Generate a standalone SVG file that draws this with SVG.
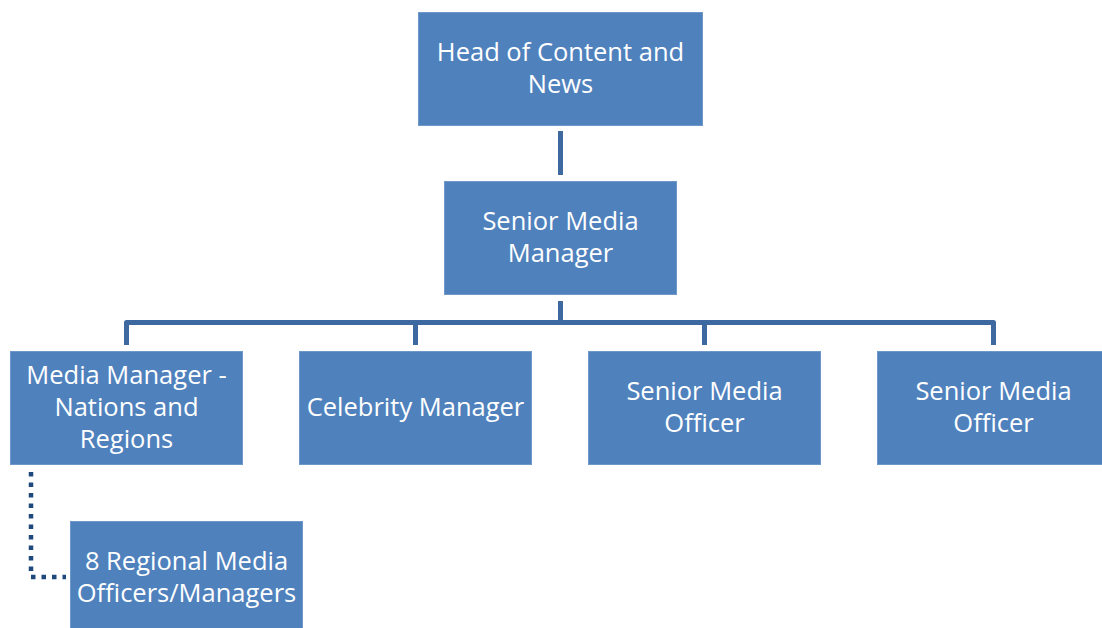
<svg xmlns="http://www.w3.org/2000/svg" width="1102" height="628" viewBox="0 0 1102 628">
<style>
.box{fill:#4F81BD;stroke:#6E97CA;stroke-width:1}
.t{font-family:"Open Sans","Noto Sans",sans-serif;font-size:25.5px;fill:#FFFFFF;text-anchor:middle}
.c{fill:none;stroke:#3D68A0;stroke-width:5}
.d{fill:none;stroke:#1F497D;stroke-width:4.5;stroke-dasharray:4.5 6}
</style>
<rect width="1102" height="628" fill="#FFFFFF"/>
<g id="connectors">
<line class="c" x1="560.5" y1="131" x2="560.5" y2="175"/>
<polyline class="c" points="560.5,301 560.5,322.5"/>
<polyline class="c" points="126.5,345 126.5,322.5 993.5,322.5 993.5,345" stroke-linejoin="round"/>
<line class="c" x1="415.5" y1="322.5" x2="415.5" y2="345"/>
<line class="c" x1="704.5" y1="322.5" x2="704.5" y2="345"/>
<polyline class="d" points="31,472 31,577 66,577"/>
</g>
<g id="n_head">
<rect class="box" x="418.5" y="12.5" width="284" height="113"/>
<text class="t" x="560.5" y="61">Head of Content and</text>
<text class="t" x="560.5" y="93">News</text>
</g>
<g id="n_smm">
<rect class="box" x="444.5" y="181.5" width="232" height="113"/>
<text class="t" x="560.5" y="230">Senior Media</text>
<text class="t" x="560.5" y="262">Manager</text>
</g>
<g id="n_mm">
<rect class="box" x="10.5" y="351.5" width="232" height="113"/>
<text class="t" x="126.5" y="384">Media Manager -</text>
<text class="t" x="126.5" y="416">Nations and</text>
<text class="t" x="126.5" y="448">Regions</text>
</g>
<g id="n_celeb">
<rect class="box" x="299.5" y="351.5" width="232" height="113"/>
<text class="t" x="415.5" y="416">Celebrity Manager</text>
</g>
<g id="n_smo1">
<rect class="box" x="588.5" y="351.5" width="232" height="113"/>
<text class="t" x="704.5" y="400">Senior Media</text>
<text class="t" x="704.5" y="432">Officer</text>
</g>
<g id="n_smo2">
<rect class="box" x="877.5" y="351.5" width="232" height="113"/>
<text class="t" x="993.5" y="400">Senior Media</text>
<text class="t" x="993.5" y="432">Officer</text>
</g>
<g id="n_regional">
<rect class="box" x="70.5" y="521.5" width="232" height="113"/>
<text class="t" x="186.5" y="570">8 Regional Media</text>
<text class="t" x="186.5" y="602">Officers/Managers</text>
</g>
</svg>
